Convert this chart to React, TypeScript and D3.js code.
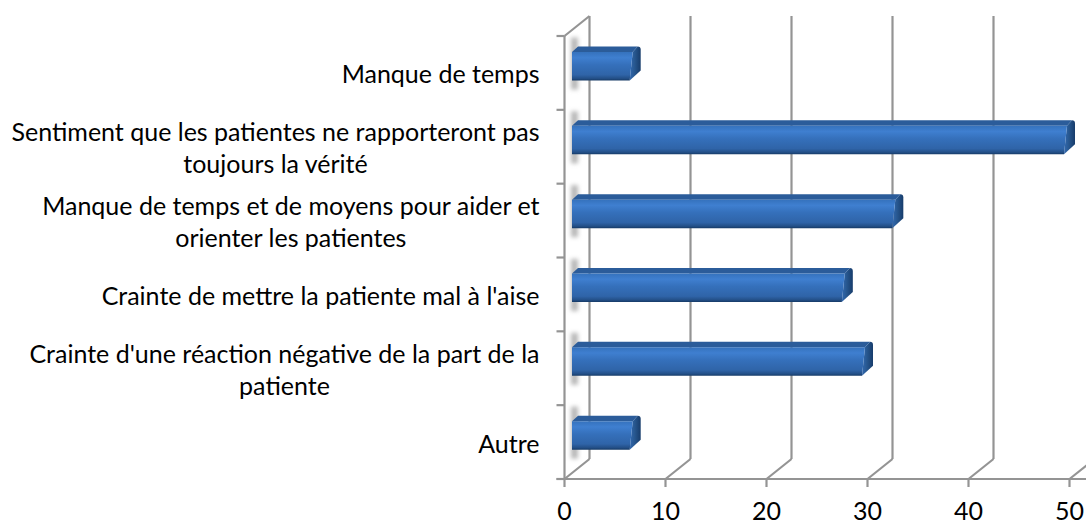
import React, { useEffect, useRef } from 'react';
import * as d3 from 'd3';

const categories: string[][] = [
  ['Manque de temps'],
  ['Sentiment que les patientes ne rapporteront pas', 'toujours la vérité'],
  ['Manque de temps et de moyens pour aider et', 'orienter les patientes'],
  ["Crainte de mettre la patiente mal à l'aise"],
  ["Crainte d'une réaction négative de la part de la", 'patiente'],
  ['Autre'],
];
const values = [7, 50, 33, 28, 30, 7];
const xTicks = [0, 10, 20, 30, 40, 50];

const WIDTH = 1086;
const HEIGHT = 522;
const FONT = 'Lato, "Open Sans", sans-serif';
const FONT_SIZE = 25;
const AXIS_COLOR = '#949494';

export default function App() {
  const svgRef = useRef<SVGSVGElement>(null);

  useEffect(() => {
    if (!svgRef.current) return;
    const svg = d3.select(svgRef.current);
    svg.selectAll('*').remove();

    const x = d3.scaleLinear().domain([0, 50]).range([564.5, 1069.5]);
    const y = d3
      .scaleBand<number>()
      .domain(d3.range(categories.length))
      .range([36, 479])
      .paddingInner(0)
      .paddingOuter(0);
    const band = y.bandwidth();

    // 3D offset of the back wall
    const depthX = 25;
    const depthY = -20;

    const defs = svg.append('defs');

    const front = defs
      .append('linearGradient')
      .attr('id', 'barFront')
      .attr('x1', 0)
      .attr('x2', 0)
      .attr('y1', 0)
      .attr('y2', 1);
    [
      [0, '#3572bd'],
      [0.2, '#3f7fd0'],
      [0.45, '#3570bb'],
      [0.8, '#2f64a8'],
      [0.93, '#234f87'],
      [1, '#163a66'],
    ].forEach(([o, c]) => front.append('stop').attr('offset', o).attr('stop-color', c));

    const side = defs
      .append('linearGradient')
      .attr('id', 'barSide')
      .attr('x1', 0)
      .attr('x2', 1)
      .attr('y1', 0)
      .attr('y2', 0);
    [
      [0, '#3269b0'],
      [0.45, '#27578f'],
      [1, '#173c6b'],
    ].forEach(([o, c]) => side.append('stop').attr('offset', o).attr('stop-color', c));

    const shadowFilter = defs
      .append('filter')
      .attr('id', 'blur')
      .attr('x', '-100%')
      .attr('y', '-30%')
      .attr('width', '300%')
      .attr('height', '160%');
    shadowFilter.append('feGaussianBlur').attr('stdDeviation', 2);

    const g = svg.append('g');

    // Back wall lines
    xTicks.forEach((t) => {
      g.append('line')
        .attr('x1', x(t) + depthX)
        .attr('x2', x(t) + depthX)
        .attr('y1', y(0)! + depthY)
        .attr('y2', 479 + depthY)
        .attr('stroke', AXIS_COLOR)
        .attr('stroke-width', 2.2);
      g.append('line')
        .attr('x1', x(t))
        .attr('x2', x(t) + depthX)
        .attr('y1', 479)
        .attr('y2', 479 + depthY)
        .attr('stroke', AXIS_COLOR)
        .attr('stroke-width', 2.2);
      g.append('line')
        .attr('x1', x(t))
        .attr('x2', x(t))
        .attr('y1', 479)
        .attr('y2', 487)
        .attr('stroke', AXIS_COLOR)
        .attr('stroke-width', 2.2);
    });

    // Floor and left wall
    g.append('line')
      .attr('x1', x(0) - 8)
      .attr('x2', WIDTH)
      .attr('y1', 479)
      .attr('y2', 479)
      .attr('stroke', AXIS_COLOR)
      .attr('stroke-width', 2.2);
    g.append('line')
      .attr('x1', x(0))
      .attr('x2', x(0))
      .attr('y1', 36)
      .attr('y2', 479)
      .attr('stroke', AXIS_COLOR)
      .attr('stroke-width', 2.2);
    g.append('line')
      .attr('x1', x(0))
      .attr('x2', x(0) + depthX)
      .attr('y1', 36)
      .attr('y2', 36 + depthY)
      .attr('stroke', AXIS_COLOR)
      .attr('stroke-width', 2.2);

    d3.range(categories.length + 1).forEach((i) => {
      const ty = 36 + i * band;
      g.append('line')
        .attr('x1', x(0) - 8)
        .attr('x2', x(0))
        .attr('y1', ty)
        .attr('y2', ty)
        .attr('stroke', AXIS_COLOR)
        .attr('stroke-width', 2.2);
    });

    // Bars
    values.forEach((v, i) => {
      const top = y(i)! + 10.5;
      const bottom = y(i)! + 44.5;
      const left = x(0) + 7.5;
      const right = x(v) + 5.5;

      // soft shadow on the side wall
      g.append('rect')
        .attr('x', left - 1)
        .attr('y', top - 9)
        .attr('width', 7)
        .attr('height', bottom - top + 18)
        .attr('fill', '#b8b8b8')
        .attr('filter', 'url(#blur)');

      // side face, chamfered more at the bottom than at the top
      g.append('path')
        .attr(
          'd',
          `M${right - 8},${top + 5.5} L${right - 3},${top} Q${right},${top} ${right},${top + 3} L${right},${bottom - 10} L${right - 11},${bottom} Z`
        )
        .attr('fill', 'url(#barSide)');
      // top face
      g.append('path')
        .attr(
          'd',
          `M${left},${top + 5.5} L${left + 6},${top} L${right - 3},${top} L${right - 8},${top + 5.5} Z`
        )
        .attr('fill', '#2b5c9a');
      // front face
      g.append('path')
        .attr(
          'd',
          `M${left},${top + 5.5} L${right - 8},${top + 5.5} L${right - 11},${bottom} L${left},${bottom} Z`
        )
        .attr('fill', 'url(#barFront)');
    });

    // X axis labels
    xTicks.forEach((t) => {
      svg
        .append('text')
        .attr('x', x(t))
        .attr('y', 520)
        .attr('text-anchor', 'middle')
        .attr('font-family', FONT)
        .attr('font-size', FONT_SIZE)
        .attr('fill', '#000')
        .text(String(t));
    });

    // Category labels: centred lines, block flush right at the axis
    const lineHeight = 32;
    const labelRight = 539.5;
    categories.forEach((lines, i) => {
      const cy = y(i)! + band / 2;
      const group = svg.append('g');
      const texts = lines.map((line, j) =>
        group
          .append('text')
          .attr('y', cy + 10.5 + (j - (lines.length - 1) / 2) * lineHeight)
          .attr('text-anchor', 'middle')
          .attr('font-family', FONT)
          .attr('font-size', FONT_SIZE)
          .attr('fill', '#000')
          .text(line)
      );
      const maxWidth = d3.max(texts, (t) => (t.node() as SVGTextElement).getComputedTextLength()) ?? 0;
      texts.forEach((t) => t.attr('x', labelRight - maxWidth / 2));
    });
  }, []);

  return (
    <svg
      ref={svgRef}
      width={WIDTH}
      height={HEIGHT}
      style={{ position: 'absolute', left: 0, top: 0, display: 'block', background: '#fff' }}
    />
  );
}
